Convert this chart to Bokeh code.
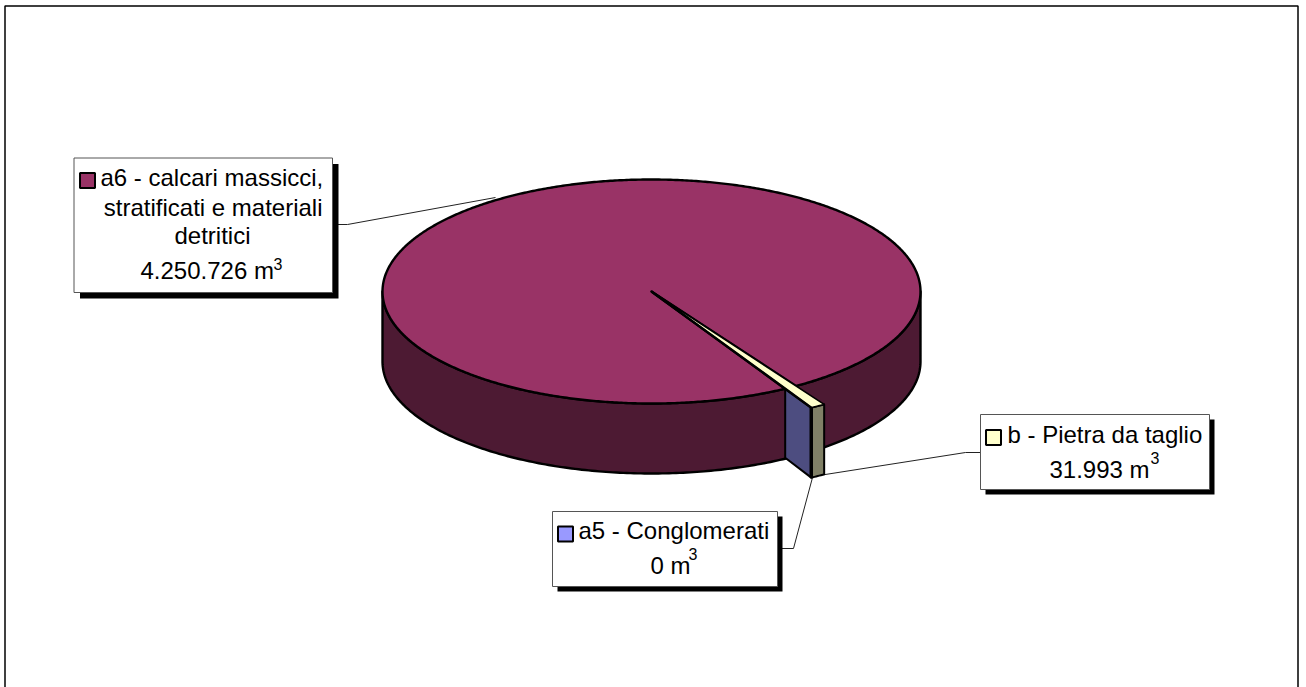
import math
from bokeh.core.properties import value
from bokeh.embed import file_html
from bokeh.models import Range1d
from bokeh.plotting import figure
from bokeh.resources import INLINE

# Extracted volumes by material, in cubic metres
categories = ["a6 - calcari massicci,", "a5 - Conglomerati", "b - Pietra da taglio"]
volumes = [4250726, 0, 31993]
top_colors = ["#993366", "#9999FF", "#FFFFCC"]
side_colors = ["#4D1A33", "#4D4D80", "#808066"]

# Pie projection
CX, CY, RX, RY, DEPTH = 651, 291, 269, 112, 70
BOUNDARY = 60.2      # parametric angle where the a6 slice ends
EXPLODE = 1.195      # radial pull of the small slices
FONT = value("Liberation Sans")
FONT_SIZE = "24px"
TEXT_DY = -8         # lifts text rows onto their baselines in the SVG output

W, H = 1306, 687
p = figure(width=W, height=H, output_backend="svg", toolbar_location=None,
           x_range=Range1d(0, W), y_range=Range1d(H, 0), min_border=0,
           outline_line_color=None)
p.axis.visible = False
p.grid.visible = False


def point(angle, r=1.0, dy=0):
    t = math.radians(angle)
    return CX + r * RX * math.cos(t), CY + r * RY * math.sin(t) + dy


def arc(a0, a1, r=1.0, dy=0, n=240):
    pts = [point(a0 + (a1 - a0) * i / n, r, dy) for i in range(n + 1)]
    return [q[0] for q in pts], [q[1] for q in pts]


def poly(xs, ys, fill, lw=2.4):
    p.patch(xs, ys, fill_color=fill, line_color="black", line_width=lw, line_join="round")


total = sum(volumes)
span_b = 360 * volumes[2] / total
span_a5 = 360 * volumes[1] / total
a5_end = BOUNDARY - span_a5
b_end = a5_end - span_b

# Page frame
p.line([4.5, 4.5, 1297.5, 1297.5], [690, 5.5, 5.5, 690], line_color="black", line_width=1.5)

# Leader lines
p.line([332, 347, 495], [224, 224, 197], line_color="#222222", line_width=1)
p.line([812, 965, 980], [476, 452, 452], line_color="#222222", line_width=1)
p.line([812, 793, 777], [477, 548, 548], line_color="#222222", line_width=1)

# Outer wall of the large slice
xt, yt = arc(0, 180)
xb, yb = arc(180, 0, dy=DEPTH)
poly(xt + xb, yt + yb, side_colors[0])

# Top face of the large slice
xs, ys = arc(BOUNDARY, b_end + 360, n=720)
poly([CX] + xs, [CY] + ys, top_colors[0])

# Radial wall of the zero-volume slice, beyond the rim of the large slice
x1, y1 = point(BOUNDARY)
x2, y2 = point(BOUNDARY, EXPLODE)
poly([x1, x2, x2, x1], [y1, y2, y2 + DEPTH, y1 + DEPTH - 1], side_colors[1], lw=2)

# Rim of the cut-stone slice
xo, yo = arc(a5_end, b_end, EXPLODE, n=8)
xu, yu = arc(b_end, a5_end, EXPLODE, dy=DEPTH, n=8)
poly(xo + xu, yo + yu, side_colors[2], lw=2)

# Top face of the cut-stone slice
poly([CX] + xo, [CY] + yo, top_colors[2], lw=1.6)
x_a5, y_a5 = point(a5_end, EXPLODE)
p.line([CX, x_a5], [CY, y_a5], line_color="black", line_width=2.5)
p.line([x_a5, x_a5], [y_a5, y_a5 + DEPTH], line_color="black", line_width=3.5)


def label(box, shadow, swatch, color, rows, sup):
    """Callout: shadow, box, colour key, text rows and a raised exponent."""
    left, top, right, bottom = box
    p.quad(left=left + shadow, right=right + shadow, top=top + shadow, bottom=bottom + shadow,
           fill_color="black", line_color="black", line_width=0)
    p.quad(left=left, right=right, top=top, bottom=bottom, fill_color="white",
           line_color="#555555", line_width=1)
    p.quad(left=swatch[0], right=swatch[0] + 15, top=swatch[1], bottom=swatch[1] + 15,
           fill_color=color, line_color="black", line_width=2)
    for x, y, s, align in rows:
        p.text([x], [y + TEXT_DY], text=[s], text_font=FONT, text_font_size=FONT_SIZE,
               text_color="black", text_align=align, text_baseline="alphabetic")
    p.text([sup[0]], [sup[1] + TEXT_DY], text=["3"], text_font=FONT, text_font_size="16px",
           text_color="black", text_align="left", text_baseline="alphabetic")


def dotted(n):
    return f"{n:,}".replace(",", ".")


label((73.5, 157.5, 332, 292), 6, (79.5, 172.5), top_colors[0], [
    (100, 185, categories[0], "left"),
    (322, 215, "stratificati e materiali", "right"),
    (212, 243, "detritici", "center"),
    (140, 278, f"{dotted(volumes[0])} m", "left"),
], (273, 271))

label((552, 511, 777, 586), 5, (557.5, 526), top_colors[1], [
    (578, 538, categories[1], "left"),
    (650, 573, f"{dotted(volumes[1])} m", "left"),
], (688, 561))

label((980, 414, 1209, 489), 5, (985.5, 429.5), top_colors[2], [
    (1007, 442, categories[2], "left"),
    (1049, 477, f"{dotted(volumes[2])} m", "left"),
], (1150, 465))

open("out.html", "w").write(file_html(p, INLINE))
